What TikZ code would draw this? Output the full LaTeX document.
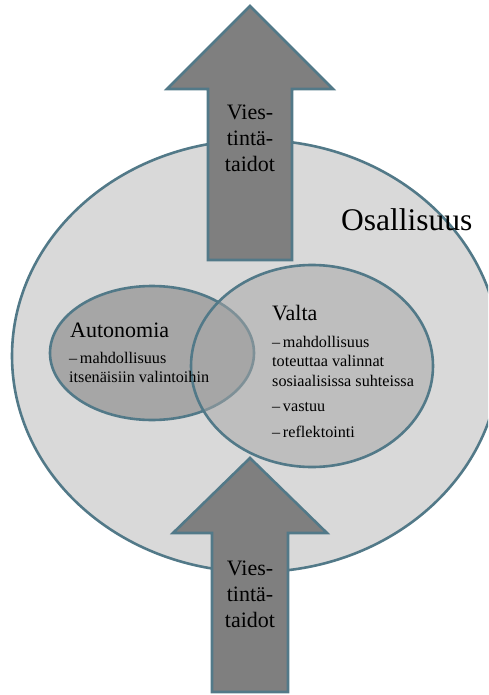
\documentclass[tikz,border=0pt]{standalone}
\usepackage{fontspec}
\setmainfont{Liberation Serif}
\usetikzlibrary{shapes.geometric}

\definecolor{edgeteal}{RGB}{82,121,136}
\definecolor{outergray}{RGB}{217,217,217}
\definecolor{innergray}{RGB}{166,166,166}
\definecolor{arrowgray}{RGB}{127,127,127}

\begin{document}
\begin{tikzpicture}[x = 1pt, y = -1pt,
	circ/.style = {draw=edgeteal, line width=2.6pt, ellipse, inner sep=0pt},
	blockarrow/.style = {draw=edgeteal, line width=2.6pt, fill=arrowgray},
	heading/.style = {font=\fontsize{22}{26}\selectfont, inner sep=0pt, anchor=base west},
	itemtext/.style = {font=\fontsize{16.2}{19.5}\selectfont, align=left, inner sep=0pt, anchor=north west},
	arrowtext/.style = {font=\fontsize{22}{26}\selectfont, align=center, inner sep=0pt, anchor=north}]
	\useasboundingbox (0,0) rectangle (488,695);
	\clip (0,0) rectangle (488,695);
	% ellipsit
	\node[circ, fill=outergray, minimum width=488pt, minimum height=432pt] (osallisuus) at (256,356) {};
	\node[circ, fill=innergray, minimum width=204pt, minimum height=134pt] (autonomia) at (152,353) {};
	\node[circ, fill=innergray, fill opacity=0.53, minimum width=242pt, minimum height=202pt] (valta) at (312,366) {};
	% nuolet
	\draw[blockarrow] (208,260) -- (208,89) -- (167,89) -- (250,6) -- (333,89) -- (292,89) -- (292,260) -- cycle;
	\draw[blockarrow] (212,692) -- (212,533) -- (173,533) -- (250,458) -- (327,533) -- (288,533) -- (288,692) -- cycle;
	\node[arrowtext] (ylataidot) at (250,105) {Vies-\\tintä-\\taidot};
	\node[arrowtext] (alataidot) at (250,561) {Vies-\\tintä-\\taidot};
	% tekstit
	\node[font=\fontsize{31.5}{36}\selectfont, inner sep=0pt, anchor=base west] (osallisuusnimi) at (341,230) {Osallisuus};
	\node[heading] (autonomianimi) at (70,337) {Autonomia};
	\node[itemtext] (autonomiateksti) at (69,352) {–\,mahdollisuus\\itsenäisiin valintoihin};
	\node[heading] (valtanimi) at (272,320) {Valta};
	\node[itemtext] (valtateksti) at (272,336) {–\,mahdollisuus\\toteuttaa valinnat\\sosiaalisissa suhteissa\\[6pt]–\,vastuu\\[6pt]–\,reflektointi};
\end{tikzpicture}
\end{document}
